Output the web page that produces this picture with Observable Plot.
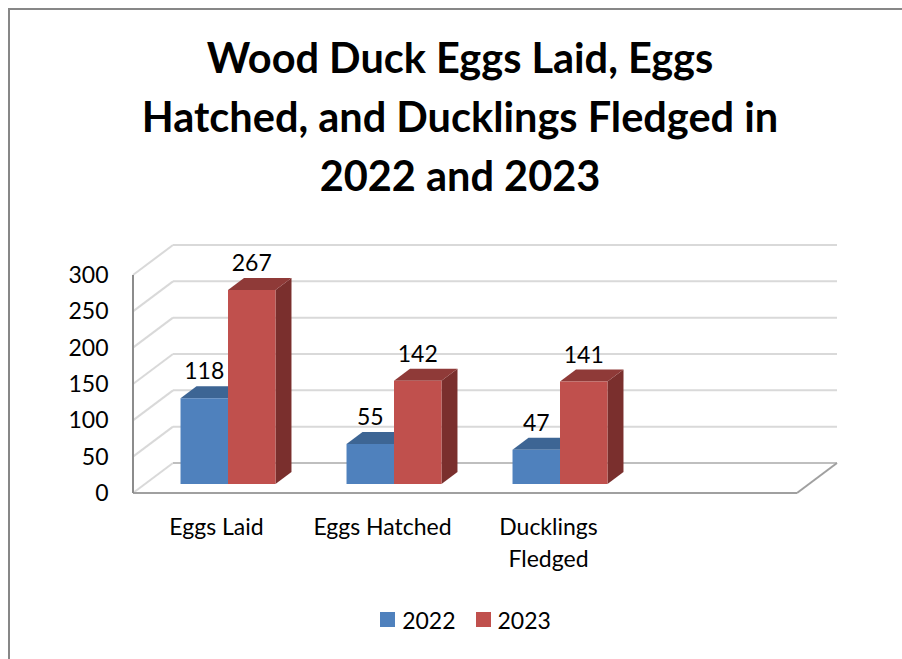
<!DOCTYPE html>
<html>
<head>
<meta charset="utf-8">
<script src="https://cdn.jsdelivr.net/npm/d3@7"></script>
<script src="https://cdn.jsdelivr.net/npm/@observablehq/plot@0.6"></script>
<style>
html, body { margin: 0; padding: 0; background: #fff; }
#wrap { position: relative; width: 902px; height: 659px; overflow: hidden; font-family: Lato, "Open Sans", sans-serif; color: #000; }
#frame { position: absolute; left: 8px; top: 8px; width: 1000px; height: 1000px; border-left: 2px solid #878787; border-top: 2px solid #878787; box-sizing: border-box; pointer-events: none; }
#title { box-sizing: border-box; height: 215px; padding-top: 28px; padding-left: 18px; text-align: center; font-weight: 700; font-size: 41.5px; line-height: 59px; margin: 0; }
#chart svg { display: block; overflow: visible; }
#legend { box-sizing: border-box; height: 79px; padding-left: 29px; display: flex; justify-content: center; align-items: center; font-size: 23px; }
.item { display: flex; align-items: center; margin: 0 10px; }
.sw { width: 15px; height: 15px; margin-right: 7px; }
</style>
</head>
<body>
<div id="wrap">
  <div id="frame"></div>
  <div id="title">Wood Duck Eggs Laid, Eggs<br>Hatched, and Ducklings Fledged in<br>2022 and 2023</div>
  <div id="chart"></div>
  <div id="legend"></div>
</div>
<script>
// ---- data ----
const categories = ["Eggs Laid", "Eggs Hatched", "Ducklings Fledged"];
const categoryLabels = ["Eggs Laid", "Eggs Hatched", "Ducklings\nFledged"];
const seriesNames = ["2022", "2023"];
const values2022 = [118, 55, 47];
const values2023 = [267, 142, 141];
const yTicks = [0, 50, 100, 150, 200, 250, 300];

// ---- styles ----
const frontColors = ["#4F81BD", "#C0504D"];
const topColors = ["#3D6594", "#8F3A38"];
const sideColors = ["#36577F", "#7A2F2D"];

const seriesValues = [values2022, values2023];
const data = categories.flatMap((c, i) =>
  seriesNames.map((s, k) => ({category: c, series: s, k, value: seriesValues[k][i]}))
);
const xDomain = [...categories, ""];   // Excel left an empty 4th slot on the floor

function chart3d(index, scales) {
  const x = scales.x, y = scales.y;
  const bw = x.bandwidth();
  const g = d3.create("svg:g");
  const DX = 40, DY = -30;           // full depth of the box
  const pf = 0.3, pd = 0.4;          // bar front plane and bar depth (fractions)
  const fx = DX * pf, fy = DY * pf, ddx = DX * pd, ddy = DY * pd;
  const xa = x(xDomain[0]);
  const xb = x(xDomain[xDomain.length - 1]) + bw;
  const y0 = y(0);
  const line = (x1, y1, x2, y2, stroke, w) =>
    g.append("line").attr("x1", x1).attr("y1", y1).attr("x2", x2).attr("y2", y2)
      .attr("stroke", stroke).attr("stroke-width", w);

  // back wall gridlines + side-wall diagonals
  for (const t of yTicks) {
    const yt = y(t);
    line(xa, yt, xa + DX, yt + DY, "#d9d9d9", 2);
    line(xa + DX, yt + DY, xb + DX, yt + DY, t === 0 ? "#bfbfbf" : "#d9d9d9", 2);
  }
  // floor edges
  line(xa, y0, xb, y0, "#a0a0a0", 2);
  line(xb, y0, xb + DX, y0 + DY, "#a0a0a0", 2);
  // front-left vertical axis line
  line(xa, y(yTicks[0]), xa, y(yTicks[yTicks.length - 1]), "#8c8c8c", 2);

  // bars
  const groupW = bw * 0.572, barW = groupW / 2;
  const poly = (pts, fill) => g.append("polygon")
    .attr("points", pts.map(p => p.join(",")).join(" ")).attr("fill", fill);
  for (const d of data) {
    const left = x(d.category) + bw / 2 - groupW / 2 + d.k * barW + fx;
    const right = left + barW;
    const bot = y0 + fy;
    const top = y(d.value) + fy;
    poly([[right, bot], [right + ddx, bot + ddy], [right + ddx, top + ddy], [right, top]], sideColors[d.k]);
    poly([[left, top], [right, top], [right + ddx, top + ddy], [left + ddx, top + ddy]], topColors[d.k]);
    poly([[left, bot], [right, bot], [right, top], [left, top]], frontColors[d.k]);
  }
  // value labels
  for (const d of data) {
    const cx = x(d.category) + bw / 2 - groupW / 2 + d.k * barW + barW / 2 + fx;
    const cy = y(d.value) + fy + ddy - 15;
    g.append("text").attr("x", cx).attr("y", cy).attr("dy", "0.35em")
      .attr("text-anchor", "middle").attr("fill", "#000").text(String(d.value));
  }
  return g.node();
}

const plot = Plot.plot({
  width: 902,
  height: 365,
  marginTop: 60,
  marginBottom: 87,
  marginLeft: 133,
  marginRight: 105,
  style: {fontSize: "23px", fontFamily: "Lato, 'Open Sans', sans-serif", color: "#000", background: "transparent", overflow: "visible"},
  x: {type: "band", domain: xDomain, padding: 0, axis: null},
  y: {type: "linear", domain: [0, 300], axis: null},
  marks: [
    chart3d,
    Plot.axisY({ticks: yTicks, tickSize: 0, tickPadding: 25, tickFormat: d => String(d)}),
    Plot.axisX({tickSize: 0, tickPadding: 18, lineHeight: 1.42,
      tickFormat: d => { const i = categories.indexOf(d); return i < 0 ? "" : categoryLabels[i]; }})
  ]
});
document.getElementById("chart").appendChild(plot);

const legend = d3.select("#legend");
seriesNames.forEach((s, k) => {
  const it = legend.append("div").attr("class", "item");
  it.append("div").attr("class", "sw").style("background", frontColors[k]);
  it.append("span").text(s);
});
</script>
</body>
</html>
